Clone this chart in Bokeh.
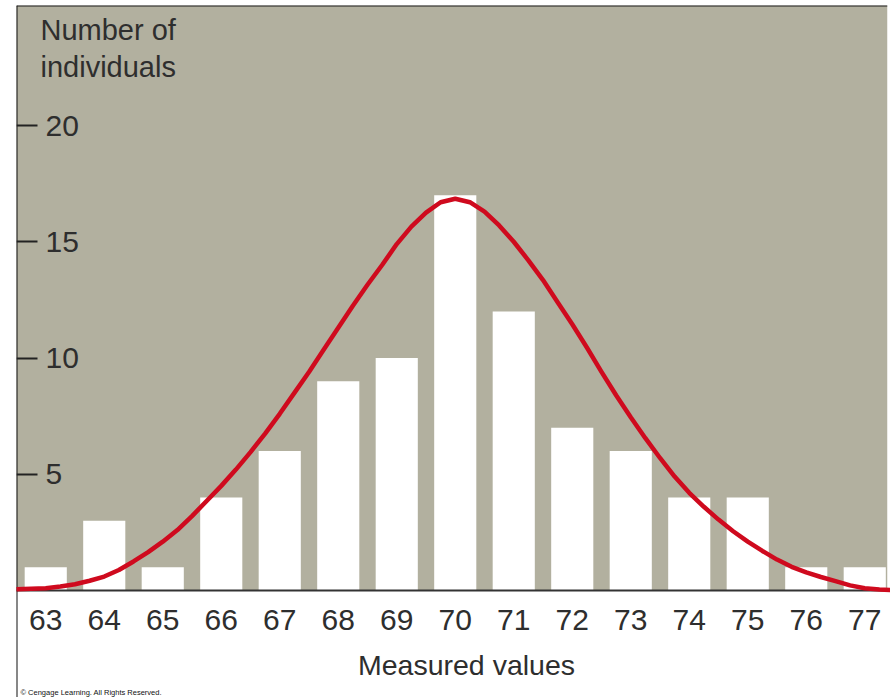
from bokeh.plotting import figure
from bokeh.models import (FixedTicker, LinearAxis, BoxAnnotation, Span, Label,
                          ColumnDataSource)
from bokeh.embed import file_html
from bokeh.resources import INLINE

# ---- data ----
values = [63, 64, 65, 66, 67, 68, 69, 70, 71, 72, 73, 74, 75, 76, 77]
counts = [1, 3, 1, 4, 6, 9, 10, 17, 12, 7, 6, 4, 4, 1, 1]
y_ticks = [5, 10, 15, 20]

# red fitted curve
curve_x = [62.5, 62.75, 63.0, 63.25, 63.5, 63.75, 64.0, 64.25, 64.5, 64.75,
           65.0, 65.25, 65.5, 65.75, 66.0, 66.25, 66.5, 66.75, 67.0, 67.25,
           67.5, 67.75, 68.0, 68.25, 68.5, 68.75, 69.0, 69.25, 69.5, 69.75,
           70.0, 70.25, 70.5, 70.75, 71.0, 71.25, 71.5, 71.75, 72.0, 72.25,
           72.5, 72.75, 73.0, 73.25, 73.5, 73.75, 74.0, 74.25, 74.5, 74.75,
           75.0, 75.25, 75.5, 75.75, 76.0, 76.25, 76.5, 76.75, 77.0, 77.25, 77.45]
curve_y = [0.05, 0.07, 0.10, 0.17, 0.27, 0.42, 0.60, 0.88, 1.25, 1.65,
           2.10, 2.60, 3.20, 3.85, 4.50, 5.20, 5.95, 6.75, 7.60, 8.50,
           9.40, 10.35, 11.30, 12.25, 13.15, 14.00, 14.90, 15.65, 16.25, 16.70,
           16.85, 16.70, 16.30, 15.70, 15.00, 14.20, 13.35, 12.40, 11.45, 10.45,
           9.40, 8.40, 7.45, 6.55, 5.70, 4.90, 4.20, 3.60, 3.05, 2.55,
           2.10, 1.70, 1.33, 1.02, 0.78, 0.58, 0.40, 0.22, 0.10, 0.04, 0.02]

GRAY = "#b2b09f"
RED = "#cf0a1e"
TXT = "#2e2e2e"
FONT = "Liberation Sans"

W, H = 890, 697
BL, BR, BT = 16, 3, 5
frame_w = W - BL - BR
frame_h = H - BT
px_per_x = 58.5
px_per_y = 23.25
x0 = 62.5
x1 = x0 + frame_w / px_per_x
base_from_bottom = 107
y0 = -base_from_bottom / px_per_y
y1 = (frame_h - base_from_bottom) / px_per_y

p = figure(width=W, height=H, x_range=(x0, x1), y_range=(y0, y1),
           output_backend="svg", toolbar_location=None,
           min_border_left=BL, min_border_right=BR,
           min_border_top=BT, min_border_bottom=0)
p.background_fill_color = "white"
p.border_fill_color = "white"
p.outline_line_color = None
p.xgrid.visible = False
p.ygrid.visible = False
p.yaxis.visible = False

# gray panel above baseline
p.add_layout(BoxAnnotation(bottom=0, fill_color=GRAY, fill_alpha=1.0,
                           line_color=None, level="underlay"))
# top border line
p.add_layout(Span(location=y1, dimension="width",
                  line_color="#1a1a1a", line_width=2))

src = ColumnDataSource(dict(x=values, top=counts))
p.vbar(x="x", top="top", bottom=0, width=0.72, source=src,
       fill_color="white", line_color=None)

p.line(curve_x, curve_y, line_color=RED, line_width=4.5, level="overlay",
       line_join="round")

# x axis at baseline
xa = p.xaxis[0]
xa.fixed_location = 0
xa.ticker = FixedTicker(ticks=values)
xa.major_tick_in = 0
xa.major_tick_out = 0
xa.minor_tick_line_color = None
xa.axis_line_color = "#333333"
xa.axis_line_width = 2
xa.major_label_text_font = FONT
xa.major_label_text_font_size = "30px"
xa.major_label_text_color = TXT
xa.major_label_standoff = 19

# y axis: ticks and labels inside the panel, line = left border
ya = LinearAxis(fixed_location=x0)
ya.ticker = FixedTicker(ticks=y_ticks)
ya.major_tick_in = 0
ya.major_tick_out = 21
ya.major_tick_line_width = 2
ya.major_tick_line_color = "#222222"
ya.minor_tick_line_color = None
ya.axis_line_color = "#111111"
ya.axis_line_width = 2
ya.major_label_text_font = FONT
ya.major_label_text_font_size = "30px"
ya.major_label_text_color = TXT
ya.major_label_standoff = 8
p.add_layout(ya, "right")

# titles (screen units relative to the plot frame)
p.add_layout(Label(x=24, y=frame_h - 33 + 9, x_units="screen", y_units="screen",
                   text="Number of", text_font=FONT, text_font_size="29px",
                   text_color=TXT, text_baseline="alphabetic"))
p.add_layout(Label(x=24, y=frame_h - 70 + 9, x_units="screen", y_units="screen",
                   text="individuals", text_font=FONT, text_font_size="29px",
                   text_color=TXT, text_baseline="alphabetic"))
p.add_layout(Label(x=450, y=33, x_units="screen", y_units="screen",
                   text="Measured values", text_font=FONT, text_font_size="28.5px",
                   text_color=TXT, text_align="center", text_baseline="alphabetic"))
p.add_layout(Label(x=4, y=5, x_units="screen", y_units="screen",
                   text="\u00a9 Cengage Learning. All Rights Reserved.",
                   text_font=FONT, text_font_size="7.5px",
                   text_color="#111111", text_baseline="alphabetic"))

open("out.html", "w").write(file_html(p, INLINE))
